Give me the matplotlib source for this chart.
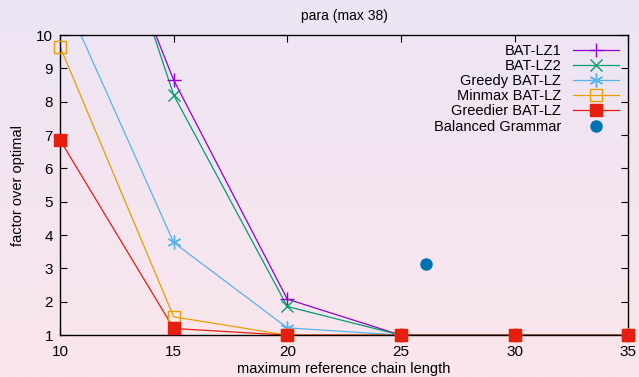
import numpy as np
import matplotlib.pyplot as plt
from matplotlib.lines import Line2D
plt.switch_backend('agg')
plt.rcParams['font.family'] = ['Liberation Sans', 'DejaVu Sans']

chain_len = [10, 15, 20, 25, 30, 35]
bat_lz1 = [17.2, 8.65, 2.08, 1.0, 1.0, 1.0]
bat_lz2 = [18.5, 8.2, 1.86, 1.0, 1.0, 1.0]
greedy = [11.4, 3.78, 1.22, 1.0, 1.0, 1.0]
minmax = [9.65, 1.55, 1.0, 1.0, 1.0, 1.0]
greedier = [6.85, 1.2, 1.0, 1.0, 1.0, 1.0]
balanced_x = [26.1]
balanced_y = [3.13]

series = [
    ("BAT-LZ1", bat_lz1, "#9400d3", dict(marker="+", ms=10, mew=1.0)),
    ("BAT-LZ2", bat_lz2, "#009e73", dict(marker="x", ms=8, mew=1.0)),
    ("Greedy BAT-LZ", greedy, "#56b4e9", dict(marker=(6, 2, 0), ms=10, mew=1.0)),
    ("Minmax BAT-LZ", minmax, "#e69f00", dict(marker="s", ms=8, mew=1.0, mfc="none")),
    ("Greedier BAT-LZ", greedier, "#e51e10", dict(marker="s", ms=8, mew=1.0)),
]

fig = plt.figure(figsize=(6.39, 3.77), dpi=100)
# gnuplot-like background gradient (lavender -> pink)
grad = np.linspace(0, 1, 256)[:, None]
top = np.array([237, 228, 244]) / 255
bot = np.array([250, 230, 236]) / 255
img = top[None, None, :] * (1 - grad[:, :, None]) + bot[None, None, :] * grad[:, :, None]
bg = fig.add_axes([0, 0, 1, 1], zorder=-10)
bg.imshow(img, aspect="auto", extent=[0, 1, 0, 1])
bg.axis("off")

ax = fig.add_axes([0.094, 0.111, 0.889, 0.796])
ax.patch.set_alpha(0)

handles = []
for name, ys, col, mk in series:
    ys = np.array(ys)
    ax.plot(chain_len, ys, color=col, lw=0.9)
    inside = ys <= 10
    ax.plot(np.array(chain_len)[inside], ys[inside], ls="none", color=col,
            clip_on=False, zorder=3, **mk)
    handles.append(Line2D([], [], color=col, lw=0.9, label=name, **mk))

ax.plot(balanced_x, balanced_y, ls="none", marker="o", ms=8, color="#0072b2",
        clip_on=False, zorder=3)
handles.append(Line2D([], [], ls="none", marker="o", ms=8, color="#0072b2",
                      label="Balanced Grammar"))

ax.set_xlim(10, 35)
ax.set_ylim(1, 10)
ax.set_xticks(range(10, 36, 5))
ax.set_yticks(range(1, 11))
ax.tick_params(direction="in", top=True, right=True, labelsize=11, length=5, width=0.8)
ax.tick_params(axis="x", pad=7)
ax.tick_params(axis="y", pad=5)
for s in ax.spines.values():
    s.set_linewidth(1.0)

ax.set_title("para (max 38)", fontsize=10, pad=11)
ax.set_xlabel("maximum reference chain length", fontsize=10.5, labelpad=2)
ax.set_ylabel("factor over optimal", fontsize=10.5, labelpad=8)

leg = ax.legend(handles=handles, loc="upper right", frameon=False, markerfirst=False,
                fontsize=10.5, handlelength=3.2, labelspacing=0.08, borderaxespad=0.2,
                handletextpad=0.8)

fig.savefig("out.png", dpi=100)
